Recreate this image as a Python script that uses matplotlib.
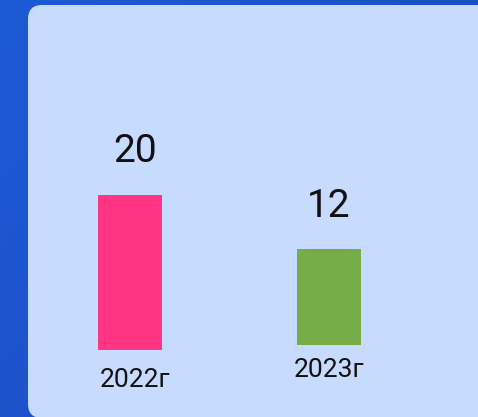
import matplotlib.pyplot as plt
import numpy as np
from matplotlib.patches import FancyBboxPatch
from matplotlib.colors import LinearSegmentedColormap

plt.rcParams["font.family"] = ["Roboto", "DejaVu Sans"]

# ======= data =======
years = ["2022г", "2023г"]
values = [20, 12]
colors = ["#FF3584", "#76AD48"]
# small per-bar baseline shift seen in the original layout
bar_bottom = [-0.6, 0.6]
# horizontal nudge of the texts (points)
text_dx = [3.5, 0]

W, H, DPI = 478, 417, 100
fig = plt.figure(figsize=(W / DPI, H / DPI), dpi=DPI)

# ======= blue gradient background =======
bg = fig.add_axes([0, 0, 1, 1])
bg.axis("off")
gx, gy = np.meshgrid(np.linspace(0, 1, 200), np.linspace(0, 1, 200))
grad = 0.6 * gx + 0.4 * gy
cmap = LinearSegmentedColormap.from_list("bg", ["#1F5AD6", "#1949BC"])
bg.imshow(grad, cmap=cmap, aspect="auto", extent=[0, 1, 0, 1], origin="upper")
bg.set_xlim(0, 1)
bg.set_ylim(0, 1)

# light panel (display pixel coords)
panel = FancyBboxPatch((28, -1), 500, 413,
                       boxstyle="round,pad=0,rounding_size=14",
                       transform=None, facecolor="#C6DBFD", edgecolor="none",
                       zorder=1)
fig.patches.append(panel)

# ======= bars =======
ax = fig.add_axes([30.5 / W, (H - 350) / H, 398 / W, 200 / H])
ax.set_xlim(-0.5, 1.5)
ax.set_ylim(0, 25)
ax.axis("off")
ax.patch.set_alpha(0)
ax.set_zorder(2)

x = np.arange(len(years))
ax.bar(x, values, width=0.32, bottom=bar_bottom, color=colors)

for xi, v, b, lab, dx in zip(x, values, bar_bottom, years, text_dx):
    ax.annotate(str(v), (xi, v + b), xytext=(dx, 23.5), textcoords="offset points",
                ha="center", va="baseline", fontsize=28, color="#111111",
                annotation_clip=False)
    ax.annotate(lab, (xi, b), xytext=(dx, -23), textcoords="offset points",
                ha="center", va="baseline", fontsize=19, color="#111111",
                annotation_clip=False)

fig.savefig("out.png", dpi=DPI)
